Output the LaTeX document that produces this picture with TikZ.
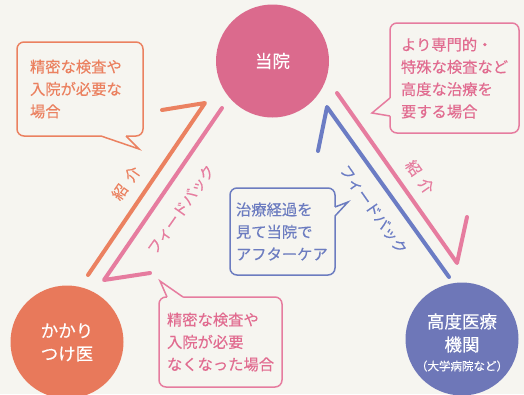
\documentclass[tikz,border=0pt]{standalone}
\usepackage{fontspec}
\setmainfont{Noto Sans CJK JP}[UprightFeatures={FakeBold=0.25}]
\definecolor{bg}{HTML}{F6F5F0}
\definecolor{orC}{HTML}{E8795B}
\definecolor{orL}{HTML}{EB8160}
\definecolor{piC}{HTML}{DB6A8D}
\definecolor{piL}{HTML}{E67C9F}
\definecolor{piT}{HTML}{E16C90}
\definecolor{blC}{HTML}{6E77B8}
\definecolor{blL}{HTML}{6B7CC4}
\definecolor{blT}{HTML}{6C7CC0}
\tikzset{
  circ/.style={circle, minimum size=113pt, inner sep=0pt},
  ctext/.style={text=white, font=\fontsize{17.5}{23}\selectfont, align=center, inner sep=0pt},
  csmall/.style={text=white, font=\fontsize{11.5}{14}\selectfont, inner sep=0pt},
  callbox/.style={draw=#1, line width=1.5pt, rounded corners=7pt, fill=bg, inner ysep=0pt,
    text=#1, align=left, font=\fontsize{15.3}{22.3}\selectfont},
  tailfill/.style={fill=bg},
  taildraw/.style={draw=#1, line width=1.5pt, line join=miter},
  flow/.style={draw=#1, line width=4pt, line cap=round, line join=round},
  lab/.style={text=#1, font=\fontsize{15}{18}\selectfont, inner sep=0pt},
}
\begin{document}
\begin{tikzpicture}[x=1pt,y=-1pt]
\useasboundingbox[fill=bg] (0,0) rectangle (524,394);

% connector end points
\coordinate (oS) at (88,275);
\coordinate (oT) at (205,103);
\coordinate (oB) at (162,110);
\coordinate (pS) at (222,108);
\coordinate (pT) at (104,280);
\coordinate (pB) at (150,273);
\coordinate (rS) at (337,93);
\coordinate (rT) at (457,263);
\coordinate (rB) at (467,217);
\coordinate (bS) at (449,277);
\coordinate (bT) at (327,107);
\coordinate (bB) at (318,151);

% circles
\node[circ, fill=piC] (toin) at (272.5,61) {};
\node[ctext] (toinT) at (toin) {当院};
\node[circ, fill=orC] (kakari) at (67,342) {};
\node[ctext] (kakariT) at (67,342.5) {かかり\\つけ医};
\node[circ, fill=blC] (koudo) at (462,339) {};
\node[ctext] (koudoT) at (462,333) {高度医療\\機関};
\node[csmall] (koudoS) at (462,366) {（大学病院など）};

% connectors
\draw[flow=orL] (oS) -- (oT) -- (oB);
\draw[flow=piL] (pS) -- (pT) -- (pB);
\draw[flow=piL] (rS) -- (rT) -- (rB);
\draw[flow=blL] (bS) -- (bT) -- (bB);

% connector labels
\node[lab=orL, rotate=55] (l1) at (126,183) {紹\hspace{7pt}介};
\node[lab=piL, rotate=55] (l2) at (181,209.5) {フィードバック};
\node[lab=piL, rotate=-55] (l3) at (420,177) {紹\hspace{7pt}介};
\node[lab=blL, rotate=-55] (l4) at (373.5,209.5) {フィードバック};

% callouts
\node[callbox=orL, minimum width=126pt, minimum height=94pt, text width=100pt, inner xsep=13pt]
  (cb1) at (80,89) {精密な検査や\\入院が必要な\\場合};
\fill[tailfill] (101,133.5) -- (126,133.5) -- (126,136) -- (139,149) -- (101,136) -- cycle;
\draw[taildraw=orL] (101,136) -- (139,149) -- (126,136);

\node[callbox=piT, draw=piL, minimum width=129pt, minimum height=110pt, text width=107pt, inner xsep=11pt]
  (cb2) at (454.5,78) {より専門的・\\特殊な検査など\\高度な治療を\\要する場合};
\fill[tailfill] (392.5,98) -- (392.5,116) -- (390,116) -- (372,113) -- (390,98) -- cycle;
\draw[taildraw=piL] (390,98) -- (372,113) -- (390,116);

\node[callbox=blT, minimum width=105pt, minimum height=87pt, text width=93pt, inner xsep=6pt]
  (cb3) at (282.5,231.5) {治療経過を\\見て当院で\\アフターケア};
\fill[tailfill] (332.5,207) -- (332.5,216) -- (335,216) -- (348,202) -- (335,207) -- cycle;
\draw[taildraw=blT] (335,207) -- (348,202) -- (335,216);

\node[callbox=piT, draw=piL, minimum width=123pt, minimum height=90pt, text width=107pt, inner xsep=8pt]
  (cb4) at (220.5,342) {精密な検査や\\入院が必要\\なくなった場合};
\fill[tailfill] (167,299.5) -- (183,299.5) -- (183,297) -- (160,281) -- (167,297) -- cycle;
\draw[taildraw=piL] (167,297) -- (160,281) -- (183,297);
\end{tikzpicture}
\end{document}
